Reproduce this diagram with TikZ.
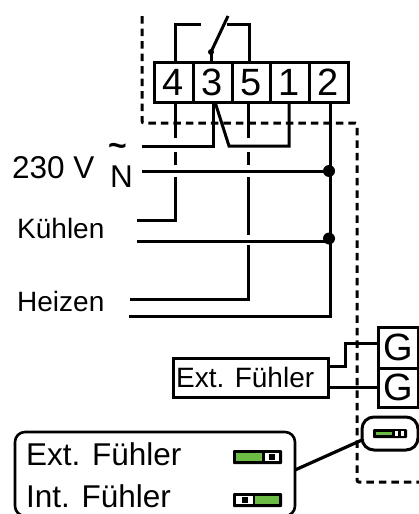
\documentclass[tikz,border=0pt]{standalone}
\usepackage{fontspec}
\setmainfont{Liberation Sans}
\definecolor{swgreen}{HTML}{6CBB45}
\tikzset{
  wire/.style={line width=3pt,line cap=butt,line join=miter,black},
  dashline/.style={line width=3pt,dash pattern=on 7.5pt off 5pt,black},
  term/.style={draw=black,line width=3pt,inner sep=0pt,font=\fontsize{38}{38}\selectfont},
  lab/.style={inner sep=0pt,anchor=base west},
  lab28/.style={lab,font=\fontsize{28}{28}\selectfont},
  lab32/.style={lab,font=\fontsize{31.5}{32}\selectfont},
  junction/.style={circle,fill=black,inner sep=0pt,minimum size=12pt},
  swbody/.style={fill=black,rounded corners=1pt},
}
\newcommand{\termbox}[4]{% name, x0, x1, text
  \node[term,minimum width=#3pt-#2pt,minimum height=40pt,text height=27pt,text depth=0pt] (#1) at ({(#2+#3)/2},82) {#4};}
\begin{document}
\begin{tikzpicture}[x=1pt,y=-1pt]
\useasboundingbox (0,0) rectangle (419,514);
% dashed enclosure
\coordinate (dA) at (142,16);
\coordinate (dB) at (142,123);
\coordinate (dC) at (357,123);
\coordinate (dD) at (357,482);
\coordinate (dE) at (419,482);
\draw[dashline,rounded corners=2pt] (dA) -- (dB) -- (dC) -- (dD) -- (dE);
% terminals
\termbox{t4}{154}{193}{4}
\termbox{t3}{193}{232}{3}
\termbox{t5}{232}{270}{5}
\termbox{t1}{270}{309}{1}
\termbox{t2}{309}{348}{2}
% top contacts
\coordinate (top4) at (175,24);
\coordinate (top4e) at (201,24);
\coordinate (top5) at (249,24);
\coordinate (top5s) at (227,24);
\coordinate (swA) at (211,52);
\coordinate (swB) at (228,16);
\draw[wire] (175,62) -- (top4) -- (top4e);
\draw[wire] (top5s) -- (top5) -- (249,62);
\draw[wire] (swA) -- (swB);
\draw[wire] (211,62) -- (swA);
\node[junction,minimum size=6pt] (swdot) at (swA) {};
% lower wires
\coordinate (L) at (142,146);
\coordinate (Lc) at (213,146);
\coordinate (Dc) at (229,146);
\coordinate (Oc) at (289,146);
\draw[wire] (L) -- (Lc) -- (213,102);
\draw[wire] (215,102) -- (Dc) -- (Oc) -- (289,102);
\coordinate (Ns) at (142,171);
\coordinate (Ne) at (329,171);
\draw[wire] (Ns) -- (Ne);
\coordinate (Ks) at (137,241);
\coordinate (Ke) at (329,241);
\draw[wire] (Ks) -- (Ke);
\coordinate (Bs) at (129,316);
\coordinate (Bc) at (330,316);
\draw[wire] (Bs) -- (Bc) -- (330,102);
\node[junction] (jN) at (329,171) {};
\node[junction] (jK) at (329,238.5) {};
% wire 4 with gaps
\draw[wire] (175,102) -- (175,138);
\draw[wire] (175,152) -- (175,165);
\draw[wire] (175,177) -- (175,220) -- (137,220);
% wire 5 with gaps
\draw[wire] (248,102) -- (248,138);
\draw[wire] (248,152) -- (248,165);
\draw[wire] (248,177) -- (248,235);
\draw[wire] (248,245) -- (248,299) -- (130,299);
% labels
\node[lab32] (l230) at (12,178) {230 V};
\node[lab32] (lN) at (110,187) {N};
\node[lab,font=\fontsize{32}{32}\selectfont\bfseries] (lT) at (108,156) {\smash{\char"7E}};
\node[lab28] (lK) at (17,238) {Kühlen};
\node[lab28] (lH) at (17,311) {Heizen};
% external sensor
\node[draw=black,line width=3pt,minimum width=155pt,minimum height=39pt,inner sep=0pt] (ext) at (250.5,377.5) {};
\node[lab28] (extT) at (176,387) {Ext. Fühler};
\node[term,minimum width=40pt,minimum height=41pt] (g1) at (398,347.5) {G};
\node[term,minimum width=40pt,minimum height=39pt] (g2) at (398,387.5) {G};
\draw[wire] (ext.east |- 0,366) -- (345,366) -- (345,343) -- (g1.west |- 0,343);
\draw[wire] (ext.east |- 0,387) -- (g2.west |- 0,387);
% selector capsule
\node[draw=black,line width=3pt,fill=white,rounded corners=12pt,minimum width=56pt,minimum height=33pt,inner sep=0pt] (cap) at (390,433.5) {};
\fill[swbody] (373,429) rectangle (407,438);
\fill[swgreen] (376,432) rectangle (392,435);
\fill[white] (395,431) rectangle (404,436);
\fill[black] (398,431) rectangle (401,436);
% panel
\draw[line width=2.6pt,rounded corners=10pt] (15,432) rectangle (295,516);
\coordinate (pan) at (295,470);
\draw[wire,line width=3.2pt] (pan) -- (362,440);
\node[lab32] (pE) at (26,465) {Ext. Fühler};
\node[lab32] (pI) at (26,507) {Int. Fühler};
% panel switches
\fill[swbody] (233,450) rectangle (282,464);
\fill[swgreen] (236,453) rectangle (262,461);
\fill[white] (265,453) rectangle (279,461);
\fill[black] (269,454) rectangle (275,460);
\fill[swbody] (233,493) rectangle (282,507);
\fill[white] (236,496) rectangle (253,504);
\fill[black] (242,497) rectangle (248,503);
\fill[swgreen] (255,496) rectangle (279,504);
\end{tikzpicture}
\end{document}
